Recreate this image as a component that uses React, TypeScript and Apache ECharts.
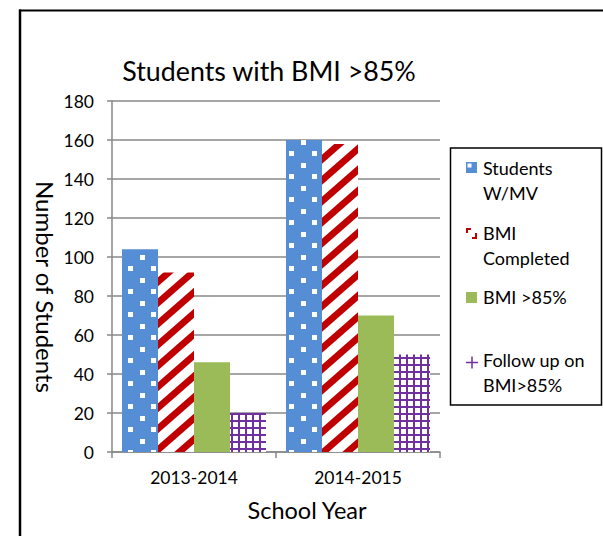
import React, { useEffect, useRef } from "react";
import * as echarts from "echarts";

const categories = ["2013-2014", "2014-2015"];
const seriesNames = ["Students W/MV", "BMI Completed", "BMI >85%", "Follow up on BMI>85%"];
const studentsWMV = [104, 160];
const bmiCompleted = [92, 158];
const bmiOver85 = [46, 70];
const followUp = [20, 50];
const yMin = 0;
const yMax = 180;
const yInterval = 20;
const legendLines = [["Students", "W/MV"], ["BMI", "Completed"], ["BMI >85%"], ["Follow up on", "BMI>85%"]];
const chartTitle = "Students with BMI >85%";
const xTitle = "School Year";
const yTitle = "Number of Students";

const FONT = "Lato, 'Open Sans', sans-serif";
const BLUE = "#558ED5";
const RED = "#C00000";
const GREEN = "#9BBB59";
const PURPLE = "#7030A0";
const GRID = "#898989";

function makeTile(w: number, h: number, draw: (ctx: CanvasRenderingContext2D) => void) {
  const c = document.createElement("canvas");
  c.width = w;
  c.height = h;
  const ctx = c.getContext("2d") as CanvasRenderingContext2D;
  draw(ctx);
  return { image: c.toDataURL(), repeat: "repeat", imageWidth: w, imageHeight: h };
}

export default function App() {
  const ref = useRef<HTMLDivElement>(null);
  useEffect(() => {
    document.body.style.margin = "0";
    if (!ref.current) return;
    const chart = echarts.init(ref.current, null, { renderer: "svg" });

    const dots = makeTile(23, 23, (ctx) => {
      ctx.fillStyle = BLUE;
      ctx.fillRect(0, 0, 23, 23);
      ctx.fillStyle = "#fff";
      ctx.fillRect(2, 2, 5, 5);
      ctx.fillRect(13, 13, 5, 5);
    });
    const stripes = makeTile(24, 21, (ctx) => {
      const W = 24, H = 21, t = 9;
      ctx.fillStyle = "#fff";
      ctx.fillRect(0, 0, W, H);
      ctx.fillStyle = RED;
      for (let n = -2; n <= 1; n++) {
        const y0 = H * (1 + n);
        const y1 = H * n;
        ctx.beginPath();
        ctx.moveTo(0, y0 - t / 2);
        ctx.lineTo(W, y1 - t / 2);
        ctx.lineTo(W, y1 + t / 2);
        ctx.lineTo(0, y0 + t / 2);
        ctx.closePath();
        ctx.fill();
      }
    });
    const grid = makeTile(7, 7, (ctx) => {
      ctx.fillStyle = "#fff";
      ctx.fillRect(0, 0, 7, 7);
      ctx.fillStyle = PURPLE;
      ctx.fillRect(0, 0, 7, 2);
      ctx.fillRect(0, 0, 2, 7);
    });

    const values = [studentsWMV, bmiCompleted, bmiOver85, followUp];
    const fills: any[] = [dots, stripes, GREEN, grid];

    const legendTextY = [168, 233, 297, 360];
    const legendGraphics: any[] = [];
    legendLines.forEach((lines, i) => {
      lines.forEach((ln, j) => {
        legendGraphics.push({
          type: "text",
          style: {
            text: ln,
            x: 483,
            y: legendTextY[i] + j * 24.5,
            fontFamily: FONT,
            fontSize: 18,
            fill: "#000",
            align: "left",
            verticalAlign: "middle",
          },
        });
      });
    });

    const option: any = {
      animation: false,
      backgroundColor: "#fff",
      title: {
        text: chartTitle,
        left: 264,
        top: 52,
        textAlign: "center",
        textStyle: { fontFamily: FONT, fontSize: 26.8, fontWeight: "normal", color: "#000" },
      },
      grid: { left: 112, top: 101, width: 328, height: 351 },
      xAxis: {
        type: "category",
        data: categories,
        axisLine: { lineStyle: { color: GRID, width: 1.5 } },
        axisTick: { show: true, length: 6, lineStyle: { color: GRID, width: 1.5 } },
        axisLabel: { fontFamily: FONT, fontSize: 17.5, color: "#000", margin: 16 },
        splitLine: { show: false },
      },
      yAxis: {
        type: "value",
        min: yMin,
        max: yMax,
        interval: yInterval,
        axisLine: { show: true, lineStyle: { color: GRID, width: 1.5 } },
        axisTick: { show: true, length: 5, lineStyle: { color: GRID, width: 1.5 } },
        axisLabel: { fontFamily: FONT, fontSize: 17.5, color: "#000", margin: 18 },
        splitLine: { show: true, lineStyle: { color: GRID, width: 1.5 } },
      },
      series: seriesNames.map((name, i) => ({
        name,
        type: "bar",
        data: values[i],
        barWidth: 36,
        barGap: "0%",
        itemStyle: { color: fills[i] },
        emphasis: { disabled: true },
      })),
      graphic: [
        { type: "line", shape: { x1: 19, y1: 10.5, x2: 620, y2: 10.5 }, style: { stroke: "#000", lineWidth: 2.2 } },
        { type: "line", shape: { x1: 20, y1: 9.5, x2: 20, y2: 560 }, style: { stroke: "#000", lineWidth: 2.5 } },
        { type: "text", rotation: -Math.PI / 2, x: 45, y: 287, style: { text: yTitle, fontFamily: FONT, fontSize: 24, fill: "#000", align: "center", verticalAlign: "middle" } },
        { type: "text", x: 307, y: 510, style: { text: xTitle, fontFamily: FONT, fontSize: 23.5, fill: "#000", align: "center", verticalAlign: "middle" } },
        { type: "rect", shape: { x: 450.5, y: 148, width: 151, height: 257 }, style: { fill: "none", stroke: "#000", lineWidth: 1.5 } },
        { type: "rect", shape: { x: 466, y: 162, width: 11, height: 11 }, style: { fill: BLUE } },
        { type: "rect", shape: { x: 467.5, y: 163.5, width: 4, height: 4 }, style: { fill: "#fff" } },
        { type: "polygon", shape: { points: [[466, 228], [471, 228], [471, 230], [468, 230], [468, 233], [466, 233]] }, style: { fill: RED } },
        { type: "polygon", shape: { points: [[477, 233], [477, 239], [472, 239], [472, 237], [475, 237], [475, 233]] }, style: { fill: RED } },
        { type: "rect", shape: { x: 466, y: 292, width: 11, height: 11 }, style: { fill: GREEN } },
        { type: "line", shape: { x1: 466, y1: 362.5, x2: 478, y2: 362.5 }, style: { stroke: PURPLE, lineWidth: 1.5 } },
        { type: "line", shape: { x1: 472, y1: 356.5, x2: 472, y2: 368.5 }, style: { stroke: PURPLE, lineWidth: 1.5 } },
        ...legendGraphics,
      ],
    };
    chart.setOption(option);
    return () => chart.dispose();
  }, []);
  return <div ref={ref} style={{ width: 603, height: 536 }} />;
}
